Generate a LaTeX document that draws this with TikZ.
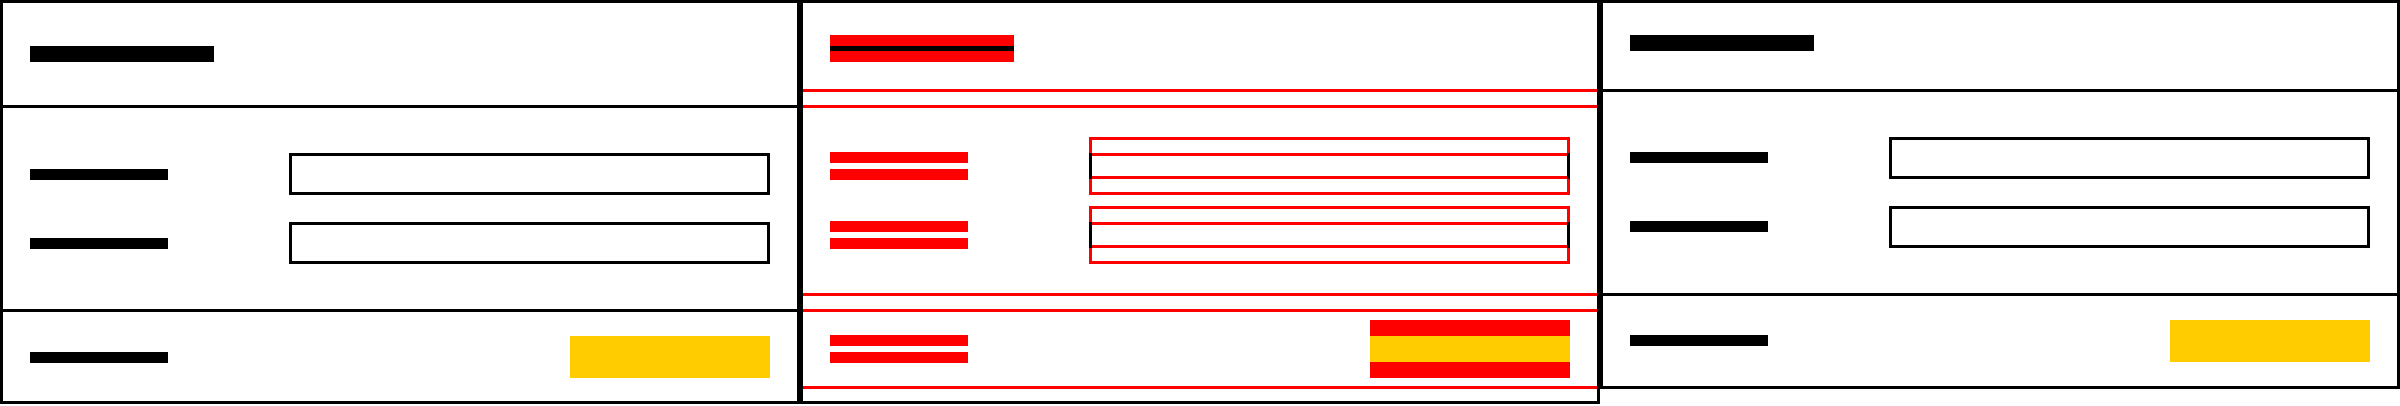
\documentclass[tikz,border=0pt]{standalone}
\definecolor{btnyellow}{HTML}{FFCC00}
\definecolor{diffred}{HTML}{FF0000}
\tikzset{
  frame/.style={draw=black,line width=3pt},
  sepline/.style={draw=black,line width=3pt},
  diffline/.style={draw=diffred,line width=3pt},
  bar/.style={fill=black},
  diffbar/.style={fill=diffred},
  field/.style={draw=black,line width=3pt},
  difffield/.style={draw=diffred,line width=3pt},
  button/.style={fill=btnyellow},
}
\begin{document}
\begin{tikzpicture}[x=1pt,y=-1pt]
\useasboundingbox (0,0) rectangle (2400,405);
\fill[white] (0,0) rectangle (2400,405);

% ---------- left panel (old) ----------
\draw[sepline] (0,106.5) -- (800,106.5);
\draw[sepline] (0,310.5) -- (800,310.5);
\draw[frame] (1.5,1.5) rectangle (798.5,402.5);
\fill[bar] (30,46) rectangle (214,62);
\fill[bar] (30,169) rectangle (168,180);
\fill[bar] (30,238) rectangle (168,249);
\fill[bar] (30,352) rectangle (168,363);
\draw[field] (290.5,154.5) rectangle (768.5,193.5);
\draw[field] (290.5,223.5) rectangle (768.5,262.5);
\fill[button] (570,336) rectangle (770,378);

% ---------- middle panel (diff) ----------
\draw[diffline] (800,90.5) -- (1600,90.5);
\draw[diffline] (800,106.5) -- (1600,106.5);
\draw[diffline] (800,294.5) -- (1600,294.5);
\draw[diffline] (800,310.5) -- (1600,310.5);
\draw[diffline] (800,387) -- (1600,387);
\draw[frame] (801.5,1.5) rectangle (1598.5,402.5);
\fill[diffbar] (830,35) rectangle (1014,62);
\fill[bar] (830,46) rectangle (1014,51);
\fill[diffbar] (830,152) rectangle (968,163);
\fill[diffbar] (830,169) rectangle (968,180);
\fill[diffbar] (830,221) rectangle (968,232);
\fill[diffbar] (830,238) rectangle (968,249);
\fill[diffbar] (830,335) rectangle (968,346);
\fill[diffbar] (830,352) rectangle (968,363);
\draw[difffield] (1090.5,138.5) rectangle (1568.5,177.5);
\draw[difffield] (1090.5,154.5) rectangle (1568.5,193.5);
\draw[field] (1090.5,153) -- (1090.5,179);
\draw[field] (1568.5,153) -- (1568.5,179);
\draw[difffield] (1090.5,207.5) rectangle (1568.5,246.5);
\draw[difffield] (1090.5,223.5) rectangle (1568.5,262.5);
\draw[field] (1090.5,222) -- (1090.5,248);
\draw[field] (1568.5,222) -- (1568.5,248);
\fill[diffbar] (1370,320) rectangle (1570,378);
\fill[button] (1370,336) rectangle (1570,362);

% ---------- right panel (new) ----------
\draw[sepline] (1600,90.5) -- (2400,90.5);
\draw[sepline] (1600,294.5) -- (2400,294.5);
\draw[frame] (1601.5,1.5) rectangle (2398.5,387);
\fill[bar] (1630,35) rectangle (1814,51);
\fill[bar] (1630,152) rectangle (1768,163);
\fill[bar] (1630,221) rectangle (1768,232);
\fill[bar] (1630,335) rectangle (1768,346);
\draw[field] (1890.5,138.5) rectangle (2368.5,177.5);
\draw[field] (1890.5,207.5) rectangle (2368.5,246.5);
\fill[button] (2170,320) rectangle (2370,362);
\end{tikzpicture}
\end{document}
